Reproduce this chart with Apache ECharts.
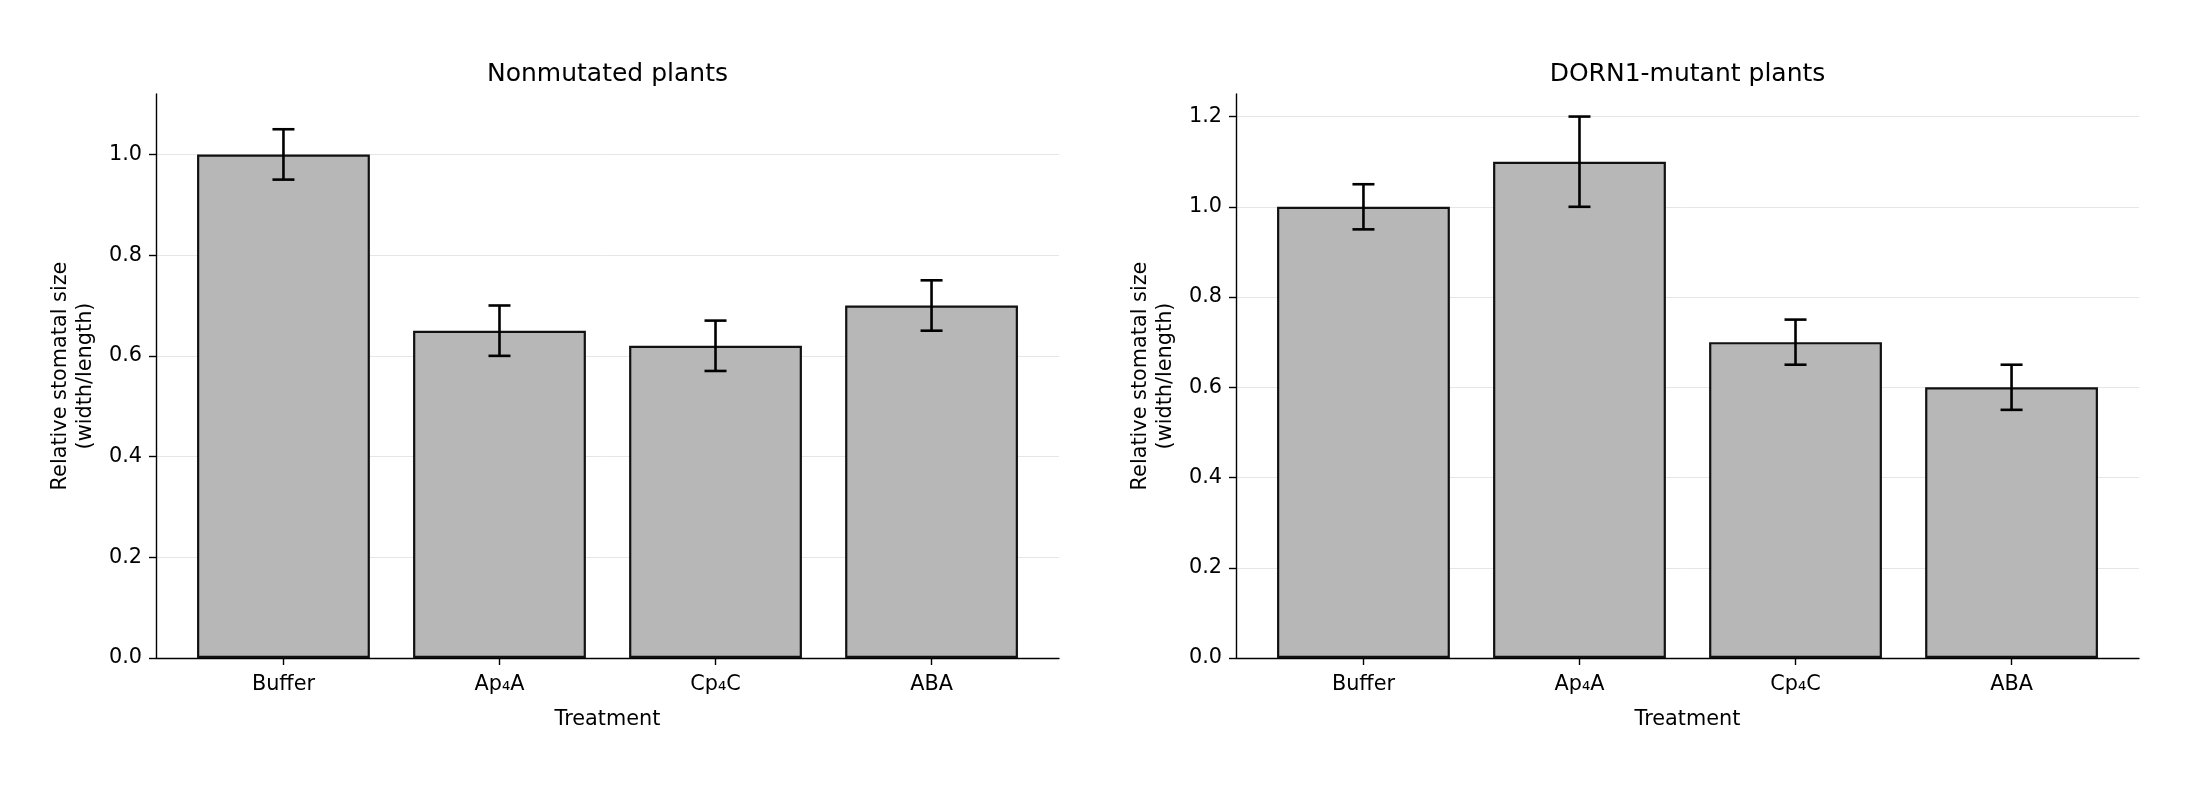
<!DOCTYPE html>
<html>
<head>
<meta charset="utf-8">
<script src="https://cdn.jsdelivr.net/npm/echarts@6/dist/echarts.min.js"></script>
<style>
  html, body { margin: 0; padding: 0; background: #fff; }
  #chart { width: 2190px; height: 800px; }
</style>
</head>
<body>
<div id="chart"></div>
<script>
// treatments on the x axis
const categories = ['Buffer', 'Ap₄A', 'Cp₄C', 'ABA'];
const xPositions = [0, 1, 2, 3];

// nonmutated plants: mean and error
const nonmutatedMean = [1.0, 0.65, 0.62, 0.70];
const nonmutatedErr = [0.05, 0.05, 0.05, 0.05];

// DORN1-mutant plants: mean and error
const mutantMean = [1.0, 1.1, 0.7, 0.6];
const mutantErr = [0.05, 0.1, 0.05, 0.05];

// y tick labels
const leftTicks = [0, 0.2, 0.4, 0.6, 0.8, 1.0];
const rightTicks = [0, 0.2, 0.4, 0.6, 0.8, 1.0, 1.2];

const titles = ['Nonmutated plants', 'DORN1-mutant plants'];

const FONT = 'DejaVu Sans';
const chart = echarts.init(document.getElementById('chart'));

function xAxisFor(gi) {
  return {
    type: 'value', gridIndex: gi, min: -0.59, max: 3.59,
    name: 'Treatment', nameLocation: 'middle', nameGap: 51,
    nameTextStyle: { fontFamily: FONT, fontSize: 20.8, color: '#000' },
    axisLine: { onZero: false, lineStyle: { color: '#000', width: 1.4 } },
    axisTick: { customValues: xPositions, length: 7, lineStyle: { color: '#000', width: 1.4 } },
    axisLabel: {
      customValues: xPositions, margin: 16,
      fontFamily: FONT, fontSize: 20.8, color: '#000',
      formatter: v => categories[Math.round(v)]
    },
    splitLine: { show: false }
  };
}

function yAxisFor(gi, max, ticks) {
  return {
    type: 'value', gridIndex: gi, min: 0, max: max,
    name: 'Relative stomatal size\n(width/length)',
    nameLocation: 'middle', nameGap: 58, nameRotate: 90,
    nameTextStyle: { fontFamily: FONT, fontSize: 20.8, color: '#000', lineHeight: 25 },
    axisLine: { show: true, onZero: false, lineStyle: { color: '#000', width: 1.4 } },
    axisTick: { show: true, customValues: ticks, length: 7, lineStyle: { color: '#000', width: 1.4 } },
    axisLabel: {
      customValues: ticks, margin: 14, padding: [4, 0, 0, 0],
      fontFamily: FONT, fontSize: 20.8, color: '#000',
      formatter: v => v.toFixed(1)
    },
    splitLine: { show: true, lineStyle: { color: '#e6e6e6', width: 1 } }
  };
}

function barSeries(gi, mean) {
  return {
    type: 'bar', xAxisIndex: gi, yAxisIndex: gi,
    barWidth: '80%',
    data: xPositions.map((x, i) => [x, mean[i]]),
    itemStyle: { color: '#b7b7b7', borderColor: '#111', borderWidth: 2.2 },
    silent: true
  };
}

function errSeries(gi, mean, err) {
  return {
    type: 'custom', xAxisIndex: gi, yAxisIndex: gi, z: 5,
    data: xPositions.map((x, i) => [x, mean[i], err[i]]),
    encode: { x: 0, y: 1 },
    renderItem: function (params, api) {
      const x = api.value(0), m = api.value(1), e = api.value(2);
      const top = api.coord([x, m + e]);
      const bot = api.coord([x, m - e]);
      const hw = 11;
      const st = { stroke: '#000', lineWidth: 2.6 };
      return {
        type: 'group',
        children: [
          { type: 'line', shape: { x1: top[0], y1: top[1], x2: bot[0], y2: bot[1] }, style: st },
          { type: 'line', shape: { x1: top[0] - hw, y1: top[1], x2: top[0] + hw, y2: top[1] }, style: st },
          { type: 'line', shape: { x1: bot[0] - hw, y1: bot[1], x2: bot[0] + hw, y2: bot[1] }, style: st }
        ]
      };
    }
  };
}

const option = {
  backgroundColor: '#fff',
  animation: false,
  graphic: [
    { type: 'text', x: 607.5, y: 74, style: { text: titles[0], fontFamily: FONT, fontSize: 25, fill: '#000', textAlign: 'center', textVerticalAlign: 'middle' } },
    { type: 'text', x: 1687.5, y: 74, style: { text: titles[1], fontFamily: FONT, fontSize: 25, fill: '#000', textAlign: 'center', textVerticalAlign: 'middle' } }
  ],
  grid: [
    { left: 156, top: 94, width: 903, height: 564 },
    { left: 1236, top: 94, width: 903, height: 564 }
  ],
  xAxis: [xAxisFor(0), xAxisFor(1)],
  yAxis: [yAxisFor(0, 1.12, leftTicks), yAxisFor(1, 1.25, rightTicks)],
  series: [
    barSeries(0, nonmutatedMean),
    errSeries(0, nonmutatedMean, nonmutatedErr),
    barSeries(1, mutantMean),
    errSeries(1, mutantMean, mutantErr)
  ]
};

chart.setOption(option);
</script>
</body>
</html>
